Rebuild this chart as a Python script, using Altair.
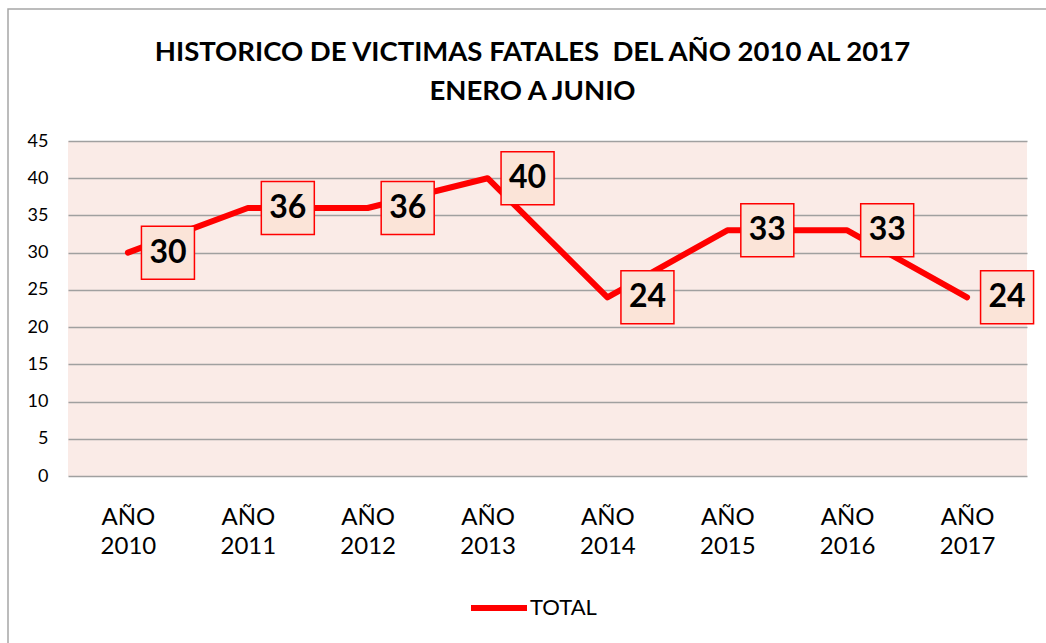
import altair as alt
import pandas as pd

years = ["AÑO 2010", "AÑO 2011", "AÑO 2012", "AÑO 2013", "AÑO 2014", "AÑO 2015", "AÑO 2016", "AÑO 2017"]
totals = [30, 36, 36, 40, 24, 33, 33, 24]
series = ["TOTAL"] * len(years)
y_ticks = [0, 5, 10, 15, 20, 25, 30, 35, 40, 45]
title_lines = ["HISTORICO DE VICTIMAS FATALES\u00a0 DEL AÑO 2010 AL 2017", "ENERO A JUNIO"]

df = pd.DataFrame({"year": years, "total": totals, "serie": series})

FONT = "Lato"

x = alt.X("year:N", sort=None,
          scale=alt.Scale(type="point", padding=0.5),
          axis=alt.Axis(title=None, labelAngle=0, labelExpr="split(datum.label, ' ')",
                        labelFontSize=24, labelFont=FONT, labelColor="#000000",
                        labelPadding=29, labelLineHeight=29, ticks=False,
                        domain=False, grid=False))
y = alt.Y("total:Q", scale=alt.Scale(domain=[0, 45]),
          axis=alt.Axis(title=None, values=y_ticks, labelFontSize=18, labelFont=FONT,
                        labelColor="#000000", labelPadding=20, ticks=False, domain=False,
                        gridColor="#A0A0A0", gridWidth=1.3))

border = alt.Chart(pd.DataFrame({"a": [0]})).mark_rect(
    fill=None, stroke="#A6A6A6", strokeWidth=1.5
).encode(x=alt.value(-60), x2=alt.value(1100), y=alt.value(-132), y2=alt.value(700))

line = alt.Chart(df).mark_line(strokeWidth=6, strokeCap="round", strokeJoin="round").encode(
    x=x, y=y,
    color=alt.Color("serie:N", scale=alt.Scale(domain=["TOTAL"], range=["#FF0000"]),
                    legend=alt.Legend(title=None, orient="none", legendX=400, legendY=436,
                                      symbolType="stroke", symbolStrokeWidth=6,
                                      symbolSize=3136, labelFontSize=22, labelFont=FONT,
                                      labelColor="#000000", labelOffset=0,
                                      direction="horizontal"))
)

boxes = alt.Chart(df).mark_square(
    size=2809, filled=True, fill="#FBE4D8", stroke="#FF0000", strokeWidth=1.5,
    opacity=1, xOffset=40
).encode(x=x, y=y)

labels = alt.Chart(df).mark_text(
    dx=40, fontSize=32, fontWeight="bold", font=FONT, color="#000000", baseline="middle"
).encode(x=x, y=y, text="total:Q")

chart = alt.layer(border, line, boxes, labels).properties(
    width=959, height=335,
    padding={"left": 68, "top": 141, "right": 19, "bottom": 167},
    autosize=alt.AutoSizeParams(type="none"),
    background="#FFFFFF",
    title=alt.TitleParams(text=title_lines, fontSize=27.5, font=FONT, fontWeight="bold",
                          color="#000000", anchor="middle", dx=-15, dy=135, offset=38,
                          lineHeight=39),
).configure_view(fill="#FAEBE7", stroke=None)

chart.save("out.html", embed_options={"renderer": "svg", "actions": False})
